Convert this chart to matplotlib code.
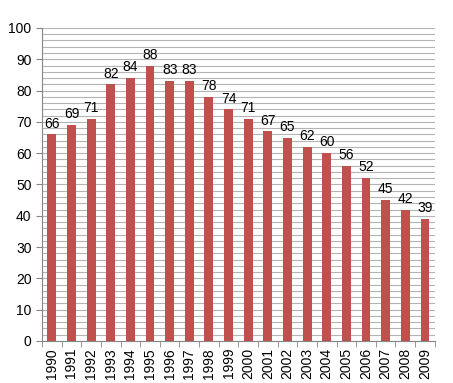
import matplotlib
matplotlib.use("Agg")
import matplotlib.pyplot as plt
import numpy as np

years = [str(y) for y in range(1990, 2010)]
values = [66, 69, 71, 82, 84, 88, 83, 83, 78, 74, 71, 67, 65, 62, 60, 56, 52, 45, 42, 39]

plt.rcParams["font.family"] = ["Liberation Sans", "DejaVu Sans"]

fig = plt.figure(figsize=(4.53, 3.83), dpi=100, facecolor="white")
ax = fig.add_axes([0.0927, 0.1097, 0.867, 0.8173])

x = np.arange(len(years))
ax.bar(x, values, width=0.45, color="#C0504D", zorder=3)
for xi, v in zip(x, values):
    ax.text(xi, v + 1.2, str(v), ha="center", va="bottom", fontsize=10)

ax.set_xlim(-0.5, len(years) - 0.5)
ax.set_ylim(0, 100)
ax.set_yticks(np.arange(0, 101, 10))
ax.set_yticks(np.arange(0, 101, 2), minor=True)
ax.grid(axis="y", which="both", color="#B4B4B4", lw=0.8, zorder=0)
ax.tick_params(axis="y", which="minor", length=0)
ax.tick_params(axis="y", which="major", length=4, color="#868686", labelsize=10)

ax.set_xticks(x)
ax.set_xticklabels(years, rotation=90, fontsize=10)
ax.tick_params(axis="x", length=0, pad=5)
ax.set_xticks(np.arange(-0.5, len(years), 1), minor=True)
ax.tick_params(axis="x", which="minor", length=4, color="#868686")

for side in ("top", "right"):
    ax.spines[side].set_visible(False)
for side in ("left", "bottom"):
    ax.spines[side].set_color("#868686")

fig.savefig("out.png", dpi=100, facecolor="white")
